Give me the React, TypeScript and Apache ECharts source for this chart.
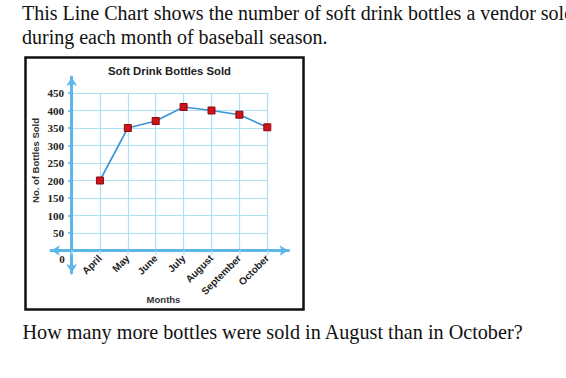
import React, { useEffect, useRef } from "react";
import * as echarts from "echarts";

const months = ["April", "May", "June", "July", "August", "September", "October"];
const bottlesSold = [200, 350, 370, 410, 400, 388, 352];
const yTicks = { min: 0, max: 450, interval: 50 };
const introLines = [
  "This Line Chart shows the number of soft drink bottles a vendor sold",
  "during each month of baseball season.",
];
const question = "How many more bottles were sold in August than in October?";
const chartTitle = "Soft Drink Bottles Sold";
const yName = "No. of Bottles Sold";
const xName = "Months";

const AXIS_BLUE = "#5cb6e8";
const GRID_BLUE = "#aee0f4";
const LINE_BLUE = "#3a95d4";

export default function App() {
  const ref = useRef<HTMLDivElement>(null);
  useEffect(() => {
    if (!ref.current) return;
    const chart = echarts.init(ref.current, undefined, { renderer: "svg" });
    const serif = "Liberation Serif";
    const sans = "Liberation Sans";
    chart.setOption({
      animation: false,
      backgroundColor: "#ffffff",
      title: {
        text: chartTitle,
        left: 164.5,
        top: 60.5,
        textAlign: "center",
        textStyle: { fontFamily: sans, fontSize: 11.3, fontWeight: "bold", color: "#222" },
      },
      grid: [
        { left: 72, top: 93, width: 195.3, height: 157.5 },
        { left: 51, top: 150, width: 237.5, height: 100.5 },
        { left: 71.7, top: 77, width: 100, height: 196 },
      ],
      xAxis: [
        {
          gridIndex: 0,
          type: "value",
          min: 0,
          max: months.length,
          interval: 1,
          axisLine: { show: false },
          axisTick: { show: true, length: 4, lineStyle: { color: GRID_BLUE, width: 1.5 } },
          splitLine: { show: true, lineStyle: { color: GRID_BLUE, width: 1.2 } },
          axisLabel: {
            rotate: 45,
            margin: 6,
            fontFamily: sans,
            fontWeight: "bold",
            fontSize: 10,
            color: "#222",
            formatter: (v: number) => months[v - 1] ?? "",
          },
        },
        {
          gridIndex: 1,
          type: "value",
          axisLine: {
            show: true,
            onZero: false,
            symbol: ["arrow", "arrow"],
            symbolSize: [8, 9],
            lineStyle: { color: AXIS_BLUE, width: 3 },
          },
          axisTick: { show: false },
          axisLabel: { show: false },
          splitLine: { show: false },
        },
        { gridIndex: 2, type: "value", show: false },
      ],
      yAxis: [
        {
          gridIndex: 0,
          type: "value",
          min: yTicks.min,
          max: yTicks.max,
          interval: yTicks.interval,
          axisLine: { show: false },
          axisTick: { show: true, length: 4, lineStyle: { color: AXIS_BLUE, width: 1.5 } },
          splitLine: { show: true, lineStyle: { color: GRID_BLUE, width: 1.2 } },
          axisLabel: {
            margin: 8,
            fontFamily: serif,
            fontWeight: "bold",
            fontSize: 11,
            color: "#222",
            formatter: (v: number) => (v === 0 ? "" : String(v)),
          },
        },
        { gridIndex: 1, type: "value", show: false },
        {
          gridIndex: 2,
          type: "value",
          axisLine: {
            show: true,
            onZero: false,
            symbol: ["arrow", "arrow"],
            symbolSize: [8, 9],
            lineStyle: { color: AXIS_BLUE, width: 3 },
          },
          axisTick: { show: false },
          axisLabel: { show: false },
          splitLine: { show: false },
        },
      ],
      series: [
        {
          type: "line",
          xAxisIndex: 0,
          yAxisIndex: 0,
          data: bottlesSold.map((v, i) => [i + 1, v]),
          symbol: "rect",
          symbolSize: 7,
          lineStyle: { color: LINE_BLUE, width: 1.6 },
          itemStyle: { color: "#d0121b", borderColor: "#8a0a0f", borderWidth: 1 },
          z: 5,
        },
      ],
      graphic: [
        {
          type: "rect",
          shape: { x: 25.5, y: 57.5, width: 278, height: 252 },
          style: { fill: "none", stroke: "#111", lineWidth: 2.5 },
          z: 10,
        },
        {
          type: "text",
          x: 35,
          y: 160.5,
          rotation: Math.PI / 2,
          style: {
            text: yName,
            fontFamily: sans,
            fontWeight: "bold",
            fontSize: 9.5,
            fill: "#333",
            align: "center",
            verticalAlign: "middle",
          },
        },
        {
          type: "text",
          x: 163.5,
          y: 299.5,
          style: {
            text: xName,
            fontFamily: sans,
            fontWeight: "bold",
            fontSize: 9.5,
            fill: "#333",
            align: "center",
            verticalAlign: "middle",
          },
        },
        {
          type: "text",
          x: 62,
          y: 259,
          style: {
            text: "0",
            fontFamily: serif,
            fontWeight: "bold",
            fontSize: 11,
            fill: "#222",
            align: "center",
            verticalAlign: "middle",
          },
        },
        ...introLines.map((t, i) => ({
          type: "text",
          x: 22,
          y: 13 + i * 24,
          style: {
            text: t,
            fontFamily: serif,
            fontSize: 20,
            fill: "#111",
            align: "left",
            verticalAlign: "middle",
          },
        })),
        {
          type: "text",
          x: 22.5,
          y: 331.5,
          style: {
            text: question,
            fontFamily: serif,
            fontSize: 20.2,
            fill: "#111",
            align: "left",
            verticalAlign: "middle",
          },
        },
      ],
    });
    return () => chart.dispose();
  }, []);
  return (
    <div
      ref={ref}
      style={{ position: "absolute", left: 0, top: 0, width: 566, height: 378, overflow: "hidden" }}
    />
  );
}
